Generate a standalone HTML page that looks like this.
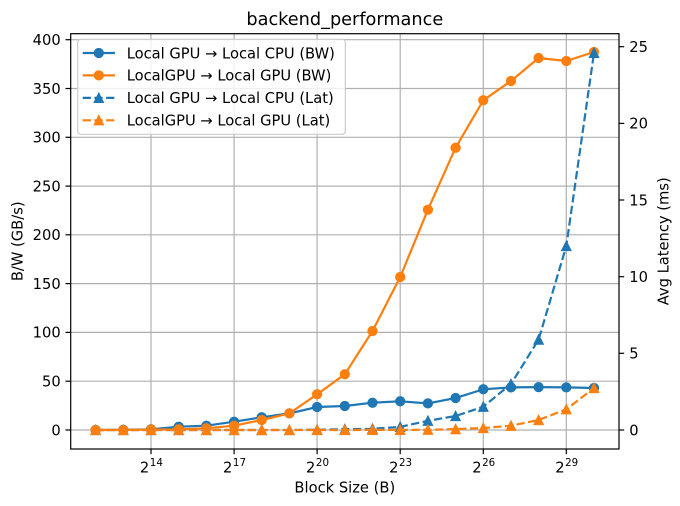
<!DOCTYPE html>
<html><head><meta charset="utf-8"><style>
html,body{margin:0;padding:0;background:#fff;}
svg{display:block;}
text{font-family:"DejaVu Sans","Liberation Sans",sans-serif;fill:#000;}
</style></head><body>
<svg width="680" height="506" viewBox="0 0 680 506" xmlns="http://www.w3.org/2000/svg">
<rect x="0" y="0" width="680" height="506" fill="#fff"/>
<!-- grid -->
<g stroke="#b0b0b0" stroke-width="1.2">
<line x1="151" y1="33.7" x2="151" y2="449"/>
<line x1="234.1" y1="33.7" x2="234.1" y2="449"/>
<line x1="317.1" y1="33.7" x2="317.1" y2="449"/>
<line x1="400.2" y1="33.7" x2="400.2" y2="449"/>
<line x1="483.3" y1="33.7" x2="483.3" y2="449"/>
<line x1="566.3" y1="33.7" x2="566.3" y2="449"/>
<line x1="70.7" y1="430" x2="619" y2="430"/>
<line x1="70.7" y1="381.2" x2="619" y2="381.2"/>
<line x1="70.7" y1="332.4" x2="619" y2="332.4"/>
<line x1="70.7" y1="283.6" x2="619" y2="283.6"/>
<line x1="70.7" y1="234.8" x2="619" y2="234.8"/>
<line x1="70.7" y1="186.1" x2="619" y2="186.1"/>
<line x1="70.7" y1="137.3" x2="619" y2="137.3"/>
<line x1="70.7" y1="88.5" x2="619" y2="88.5"/>
<line x1="70.7" y1="39.7" x2="619" y2="39.7"/>
</g>
<defs>
<circle id="cb" r="4.4" fill="#1f77b4" stroke="#1f77b4" stroke-width="1.47"/>
<circle id="co" r="4.4" fill="#ff7f0e" stroke="#ff7f0e" stroke-width="1.47"/>
<path id="tb" d="M0,-4.4 L-4.4,4.4 L4.4,4.4 Z" fill="#1f77b4" stroke="#1f77b4" stroke-width="1.47" stroke-linejoin="miter"/>
<path id="to" d="M0,-4.4 L-4.4,4.4 L4.4,4.4 Z" fill="#ff7f0e" stroke="#ff7f0e" stroke-width="1.47" stroke-linejoin="miter"/>
</defs>
<!-- blue BW -->
<polyline fill="none" stroke="#1f77b4" stroke-width="2.2" stroke-linejoin="round" points="95.6,430 123.3,429.8 151,429.3 178.7,426.7 206.4,425.7 234.1,421.7 261.7,417.3 289.4,413.4 317.1,407 344.8,406 372.5,402.7 400.2,401.3 427.9,403.4 455.6,398 483.3,389.3 511,387.4 538.6,387.1 566.3,387.4 594,388"/>
<g>
<use href="#cb" x="95.6" y="430"/><use href="#cb" x="123.3" y="429.8"/><use href="#cb" x="151" y="429.3"/><use href="#cb" x="178.7" y="426.7"/><use href="#cb" x="206.4" y="425.7"/><use href="#cb" x="234.1" y="421.7"/><use href="#cb" x="261.7" y="417.3"/><use href="#cb" x="289.4" y="413.4"/><use href="#cb" x="317.1" y="407"/><use href="#cb" x="344.8" y="406"/><use href="#cb" x="372.5" y="402.7"/><use href="#cb" x="400.2" y="401.3"/><use href="#cb" x="427.9" y="403.4"/><use href="#cb" x="455.6" y="398"/><use href="#cb" x="483.3" y="389.3"/><use href="#cb" x="511" y="387.4"/><use href="#cb" x="538.6" y="387.1"/><use href="#cb" x="566.3" y="387.4"/><use href="#cb" x="594" y="388"/>
</g>
<!-- orange BW -->
<polyline fill="none" stroke="#ff7f0e" stroke-width="2.2" stroke-linejoin="round" points="95.6,430 123.3,430 151,429.5 178.7,429.3 206.4,428.3 234.1,425.7 261.7,420 289.4,413.4 317.1,394.3 344.8,374.3 372.5,331 400.2,277 427.9,209.7 455.6,147.7 483.3,100.3 511,81 538.6,58 566.3,61 594,52"/>
<g>
<use href="#co" x="95.6" y="430"/><use href="#co" x="123.3" y="430"/><use href="#co" x="151" y="429.5"/><use href="#co" x="178.7" y="429.3"/><use href="#co" x="206.4" y="428.3"/><use href="#co" x="234.1" y="425.7"/><use href="#co" x="261.7" y="420"/><use href="#co" x="289.4" y="413.4"/><use href="#co" x="317.1" y="394.3"/><use href="#co" x="344.8" y="374.3"/><use href="#co" x="372.5" y="331"/><use href="#co" x="400.2" y="277"/><use href="#co" x="427.9" y="209.7"/><use href="#co" x="455.6" y="147.7"/><use href="#co" x="483.3" y="100.3"/><use href="#co" x="511" y="81"/><use href="#co" x="538.6" y="58"/><use href="#co" x="566.3" y="61"/><use href="#co" x="594" y="52"/>
</g>
<!-- blue Lat -->
<polyline fill="none" stroke="#1f77b4" stroke-width="2.2" stroke-dasharray="8.2,3.5" points="95.6,430 123.3,430 151,430 178.7,430 206.4,430 234.1,430 261.7,430 289.4,430 317.1,429.7 344.8,429.2 372.5,428.8 400.2,426.9 427.9,420.8 455.6,416 483.3,406.7 511,384 538.6,339.6 566.3,246 594,52.9"/>
<g>
<use href="#tb" x="95.6" y="430"/><use href="#tb" x="123.3" y="430"/><use href="#tb" x="151" y="430"/><use href="#tb" x="178.7" y="430"/><use href="#tb" x="206.4" y="430"/><use href="#tb" x="234.1" y="430"/><use href="#tb" x="261.7" y="430"/><use href="#tb" x="289.4" y="430"/><use href="#tb" x="317.1" y="429.7"/><use href="#tb" x="344.8" y="429.2"/><use href="#tb" x="372.5" y="428.8"/><use href="#tb" x="400.2" y="426.9"/><use href="#tb" x="427.9" y="420.8"/><use href="#tb" x="455.6" y="416"/><use href="#tb" x="483.3" y="406.7"/><use href="#tb" x="511" y="384"/><use href="#tb" x="538.6" y="339.6"/><use href="#tb" x="566.3" y="246"/><use href="#tb" x="594" y="52.9"/>
</g>
<!-- orange Lat -->
<polyline fill="none" stroke="#ff7f0e" stroke-width="2.2" stroke-dasharray="8.2,3.5" points="95.6,430 123.3,430 151,430 178.7,430 206.4,430 234.1,430 261.7,430 289.4,430 317.1,430 344.8,430 372.5,429.9 400.2,429.9 427.9,429.8 455.6,429.1 483.3,428 511,425.7 538.6,420 566.3,409.3 594,388"/>
<g>
<use href="#to" x="95.6" y="430"/><use href="#to" x="123.3" y="430"/><use href="#to" x="151" y="430"/><use href="#to" x="178.7" y="430"/><use href="#to" x="206.4" y="430"/><use href="#to" x="234.1" y="430"/><use href="#to" x="261.7" y="430"/><use href="#to" x="289.4" y="430"/><use href="#to" x="317.1" y="430"/><use href="#to" x="344.8" y="430"/><use href="#to" x="372.5" y="429.9"/><use href="#to" x="400.2" y="429.9"/><use href="#to" x="427.9" y="429.8"/><use href="#to" x="455.6" y="429.1"/><use href="#to" x="483.3" y="428"/><use href="#to" x="511" y="425.7"/><use href="#to" x="538.6" y="420"/><use href="#to" x="566.3" y="409.3"/><use href="#to" x="594" y="388"/>
</g>
<!-- spines -->
<rect x="70.7" y="33.7" width="548.3" height="415.3" fill="none" stroke="#000" stroke-width="1.2"/>
<!-- ticks -->
<g stroke="#000" stroke-width="1.2">
<line x1="65.5" y1="430" x2="70.7" y2="430"/>
<line x1="65.5" y1="381.2" x2="70.7" y2="381.2"/>
<line x1="65.5" y1="332.4" x2="70.7" y2="332.4"/>
<line x1="65.5" y1="283.6" x2="70.7" y2="283.6"/>
<line x1="65.5" y1="234.8" x2="70.7" y2="234.8"/>
<line x1="65.5" y1="186.1" x2="70.7" y2="186.1"/>
<line x1="65.5" y1="137.3" x2="70.7" y2="137.3"/>
<line x1="65.5" y1="88.5" x2="70.7" y2="88.5"/>
<line x1="65.5" y1="39.7" x2="70.7" y2="39.7"/>
<line x1="619" y1="430" x2="624.2" y2="430"/>
<line x1="619" y1="353.3" x2="624.2" y2="353.3"/>
<line x1="619" y1="276.7" x2="624.2" y2="276.7"/>
<line x1="619" y1="200" x2="624.2" y2="200"/>
<line x1="619" y1="123.4" x2="624.2" y2="123.4"/>
<line x1="619" y1="46.7" x2="624.2" y2="46.7"/>
<line x1="151" y1="449" x2="151" y2="454.2"/>
<line x1="234.1" y1="449" x2="234.1" y2="454.2"/>
<line x1="317.1" y1="449" x2="317.1" y2="454.2"/>
<line x1="400.2" y1="449" x2="400.2" y2="454.2"/>
<line x1="483.3" y1="449" x2="483.3" y2="454.2"/>
<line x1="566.3" y1="449" x2="566.3" y2="454.2"/>
</g>
<!-- left tick labels -->
<g font-size="14.7" text-anchor="end">
<text x="60.7" y="435.3">0</text>
<text x="60.7" y="386.5">50</text>
<text x="60.7" y="337.7">100</text>
<text x="60.7" y="288.9">150</text>
<text x="60.7" y="240.1">200</text>
<text x="60.7" y="191.4">250</text>
<text x="60.7" y="142.6">300</text>
<text x="60.7" y="93.8">350</text>
<text x="60.7" y="45">400</text>
</g>
<!-- right tick labels -->
<g font-size="14.7" text-anchor="start">
<text x="629.3" y="435.3">0</text>
<text x="629.3" y="358.6">5</text>
<text x="629.3" y="282">10</text>
<text x="629.3" y="205.3">15</text>
<text x="629.3" y="128.7">20</text>
<text x="629.3" y="52">25</text>
</g>
<!-- x tick labels -->
<g>
<text x="139.9" y="472.3" font-size="14.7">2</text><text x="149.8" y="466" font-size="10.3">14</text>
<text x="223" y="472.3" font-size="14.7">2</text><text x="232.9" y="466" font-size="10.3">17</text>
<text x="306" y="472.3" font-size="14.7">2</text><text x="315.9" y="466" font-size="10.3">20</text>
<text x="389.1" y="472.3" font-size="14.7">2</text><text x="399" y="466" font-size="10.3">23</text>
<text x="472.2" y="472.3" font-size="14.7">2</text><text x="482.1" y="466" font-size="10.3">26</text>
<text x="555.2" y="472.3" font-size="14.7">2</text><text x="565.1" y="466" font-size="10.3">29</text>
</g>
<!-- labels -->
<text x="344.8" y="25" font-size="17.7" text-anchor="middle">backend_performance</text>
<text x="344.8" y="492.6" font-size="14.7" text-anchor="middle">Block Size (B)</text>
<text transform="translate(22.7,241.3) rotate(-90)" font-size="14.7" text-anchor="middle">B/W (GB/s)</text>
<text transform="translate(668.5,241.3) rotate(-90)" font-size="14.7" text-anchor="middle">Avg Latency (ms)</text>
<!-- legend -->
<rect x="77.7" y="39.3" width="267.6" height="95" rx="3" ry="3" fill="#fff" fill-opacity="0.8" stroke="#cccccc" stroke-width="1.2"/>
<line x1="82.7" y1="53" x2="115" y2="53" stroke="#1f77b4" stroke-width="2.2"/>
<use href="#cb" x="98.8" y="53"/>
<line x1="82.7" y1="75.4" x2="115" y2="75.4" stroke="#ff7f0e" stroke-width="2.2"/>
<use href="#co" x="98.8" y="75.4"/>
<line x1="82.7" y1="97.9" x2="115" y2="97.9" stroke="#1f77b4" stroke-width="2.2" stroke-dasharray="8.2,3.5"/>
<use href="#tb" x="98.8" y="97.9"/>
<line x1="82.7" y1="120.3" x2="115" y2="120.3" stroke="#ff7f0e" stroke-width="2.2" stroke-dasharray="8.2,3.5"/>
<use href="#to" x="98.8" y="120.3"/>
<g font-size="14.7">
<text x="126.7" y="58.3">Local GPU → Local CPU (BW)</text>
<text x="126.7" y="80.7">LocalGPU → Local GPU (BW)</text>
<text x="126.7" y="103.2">Local GPU → Local CPU (Lat)</text>
<text x="126.7" y="125.6">LocalGPU → Local GPU (Lat)</text>
</g>
</svg>
</body></html>
